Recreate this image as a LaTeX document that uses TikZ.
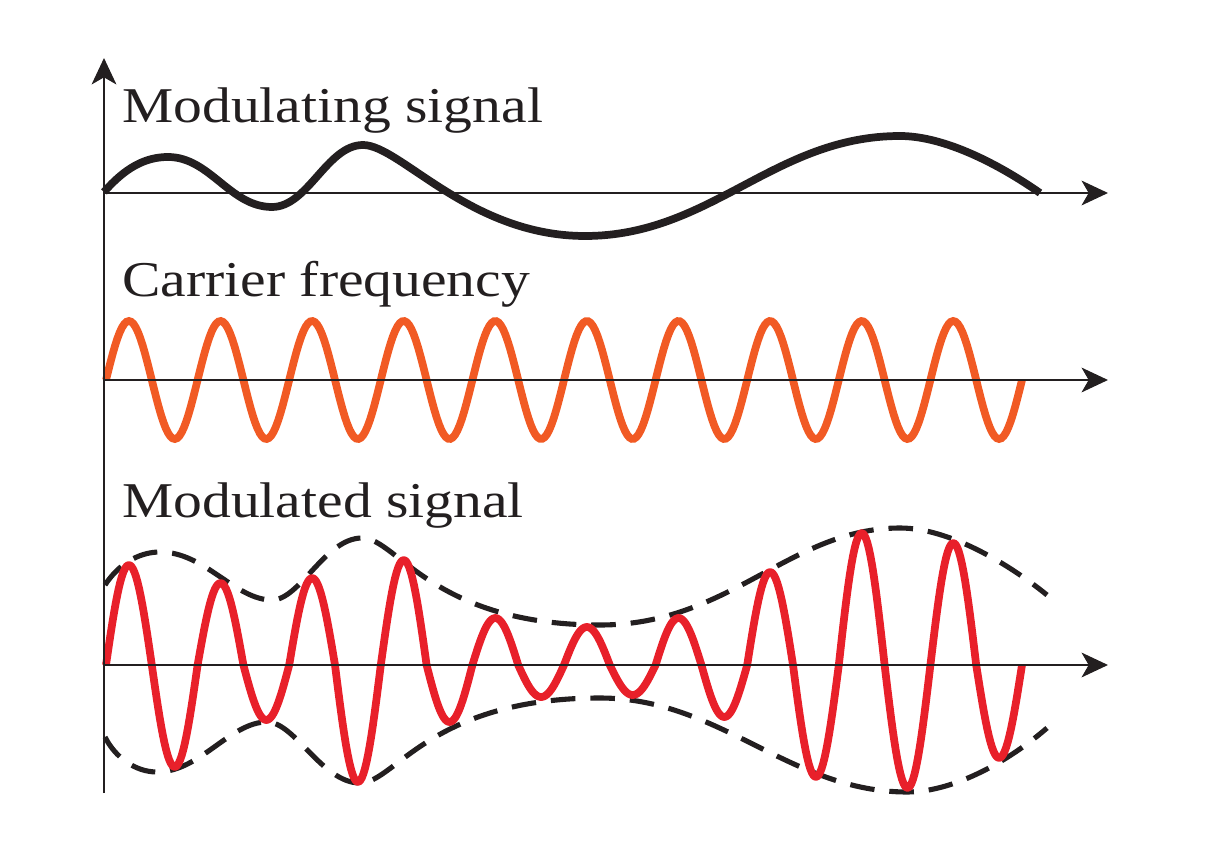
\documentclass[tikz,border=0pt]{standalone}
\usepackage{fontspec}
\setmainfont{Liberation Serif}[FakeStretch=1.15]
\usetikzlibrary{arrows.meta}
\definecolor{Ink}{HTML}{231F20}
\definecolor{Carrier}{HTML}{F15A24}
\definecolor{Signal}{HTML}{E8202A}
\tikzset{
  axisline/.style={-{Stealth[length=15pt,width=14pt,inset=4pt]},line width=1.6pt,draw=Ink},
  modline/.style={line width=4.4pt,draw=Ink},
  carrline/.style={line width=4.4pt,draw=Carrier},
  amline/.style={line width=4.4pt,draw=Signal,line join=round},
  envline/.style={line width=2.9pt,draw=Ink,dash pattern=on 14pt off 8.5pt},
  plotlabel/.style={anchor=base west,inner sep=0pt,text=Ink,font=\fontsize{28.5}{34}\selectfont},
}

\begin{document}
\begin{tikzpicture}[x=0.2mm,y=-0.2mm]
    \useasboundingbox (0,0) rectangle (1214,856);
    \coordinate (ybottom) at (104,793);
    \coordinate (ytop) at (104,58);
    \coordinate (modaxis) at (104,193);
    \coordinate (modtip) at (1108,193);
    \coordinate (carraxis) at (104,380);
    \coordinate (carrtip) at (1108,380);
    \coordinate (amaxis) at (104,665);
    \coordinate (amtip) at (1108,665);
    \coordinate (amstart) at (106,665);

    % labels
    \node[plotlabel] (modlabel) at (122,123) {Modulating signal};
    \node[plotlabel] (carrlabel) at (122,297) {Carrier frequency};
    \node[plotlabel] (amlabel) at (122,518) {Modulated signal};

    % modulating signal
    \draw[modline] (104,192) .. controls (125,168) and (145,157) .. (168,157)
      .. controls (210,157) and (230,207) .. (272,207)
      .. controls (308,207) and (327,145) .. (363,145)
      .. controls (400,145) and (470,236) .. (585,236)
      .. controls (711,236) and (774,136) .. (900,136)
      .. controls (945,136) and (1000,165) .. (1040,193);

    % carrier
    \draw[carrline] plot[domain=106:1022,samples=400] (\x,{380-59*sin((\x-106)/45.8*180)});

    % envelope
    \draw[envline] (105,585) .. controls (118,565) and (138,552) .. (160,552)
      .. controls (205,552) and (235,600) .. (272,600)
      .. controls (300,600) and (325,538) .. (362,538)
      .. controls (397,538) and (432,625) .. (600,625)
      .. controls (730,625) and (790,528) .. (900,528)
      .. controls (950,528) and (1010,565) .. (1047,595);
    \draw[envline] (105,737) .. controls (115,757) and (135,772) .. (157,772)
      .. controls (200,772) and (230,722) .. (267,722)
      .. controls (295,722) and (322,783) .. (360,783)
      .. controls (395,783) and (430,698) .. (600,698)
      .. controls (720,698) and (790,792) .. (907,792)
      .. controls (955,792) and (1010,760) .. (1047,728);

    % modulated signal, one half wave per amplitude
    \draw[amline] (amstart) \foreach \amp [count=\k from 0] in {100,102,82,55,87,117,105,57,47,32,38,30,47,52,93,112,132,123,122,93} {
      -- plot[domain={106+45.8*\k}:{106+45.8*(\k+1)},samples=30] (\x,{665-\amp*sin((\x-106)/45.8*180)})
    };

    % axes
    \draw[axisline] (ybottom) -- (ytop);
    \draw[axisline] (modaxis) -- (modtip);
    \draw[axisline] (carraxis) -- (carrtip);
    \draw[axisline] (amaxis) -- (amtip);
  \end{tikzpicture}
\end{document}
